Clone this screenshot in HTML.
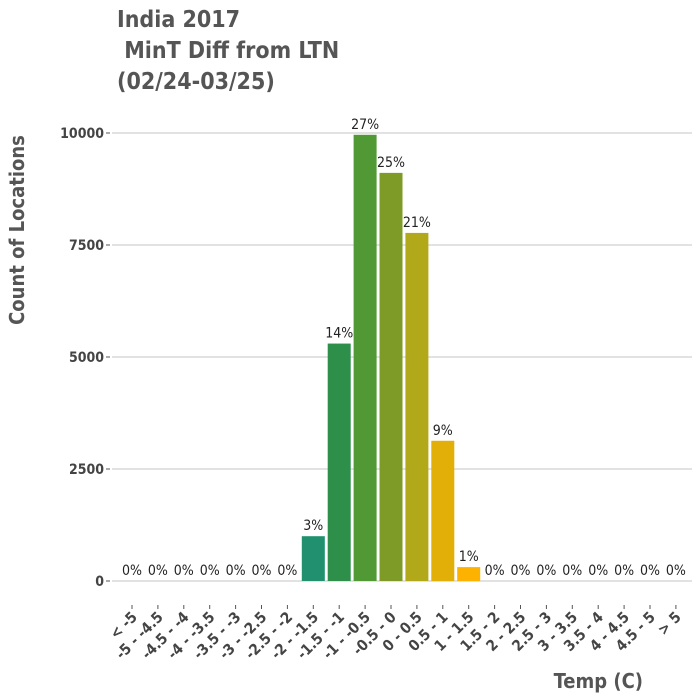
<!DOCTYPE html>
<html><head><meta charset="utf-8"><style>
body{margin:0;background:#fff}
svg{display:block;font-family:"DejaVu Sans Condensed","Liberation Sans",sans-serif}
</style></head><body>
<svg id="chart" width="700" height="700" viewBox="0 0 700 700">
<g fill="#555" font-weight="bold" font-size="23">
<text x="117" y="27">India 2017</text>
<text x="117" y="58" xml:space="preserve"> MinT Diff from LTN</text>
<text x="117" y="89" xml:space="preserve">(02/24-03/25)</text>
</g>
<text transform="translate(24,230) rotate(-90)" text-anchor="middle" font-size="20" font-weight="bold" fill="#555">Count of Locations</text>
<text x="643" y="688" text-anchor="end" font-size="20" font-weight="bold" fill="#555">Temp (C)</text>
<g id="grid"></g><g id="bars"></g><g id="labels"></g><g id="yticks"></g><g id="xticks"></g>
</svg>
<script>
const categories=["< -5","-5 - -4.5","-4.5 - -4","-4 - -3.5","-3.5 - -3","-3 - -2.5","-2.5 - -2","-2 - -1.5","-1.5 - -1","-1 - -0.5","-0.5 - 0","0 - 0.5","0.5 - 1","1 - 1.5","1.5 - 2","2 - 2.5","2.5 - 3","3 - 3.5","3.5 - 4","4 - 4.5","4.5 - 5","> 5"];
const counts=[0,0,0,0,0,0,0,1000,5300,9960,9110,7770,3130,310,0,0,0,0,0,0,0,0];
const pctLabels=["0%","0%","0%","0%","0%","0%","0%","3%","14%","27%","25%","21%","9%","1%","0%","0%","0%","0%","0%","0%","0%","0%"];
const colors=["#1f8f6f","#1f8f6f","#1f8f6f","#1f8f6f","#1f8f6f","#1f8f6f","#1f8f6f","#21906f","#2e8f4b","#519935","#7d9b26","#b2a91a","#e2ae08","#fdb100","#fdb100","#fdb100","#fdb100","#fdb100","#fdb100","#fdb100","#fdb100","#fdb100"];
const yTicks=[0,2500,5000,7500,10000];
const NS="http://www.w3.org/2000/svg";
const y=v=>581-v*0.0448;
const x=i=>132+i*25.9;
const bw=23;
function mk(tag,attrs,parent,txt){const e=document.createElementNS(NS,tag);for(const k in attrs)e.setAttribute(k,attrs[k]);if(txt!==undefined)e.textContent=txt;document.getElementById(parent).appendChild(e);return e;}
yTicks.forEach(t=>{
 const g=mk('line',{x1:112,x2:692,y1:y(t),y2:y(t),stroke:'#d0d0d0','stroke-width':1.3},'grid');
 
 
 const l=mk('text',{x:104,y:y(t)+5,'text-anchor':'end','font-size':14,'font-weight':'bold',fill:'#444'},'yticks',String(t));
 
 
 mk('line',{x1:106,x2:110,y1:y(t),y2:y(t),stroke:'#555'},'yticks');
});
categories.forEach((c,i)=>{
 const cx=x(i);
 if(counts[i]>0){
  const r=mk('rect',{x:cx-bw/2,y:y(counts[i]),width:bw,height:y(0)-y(counts[i]),fill:colors[i]},'bars');
  
  
 }
 const p=mk('text',{x:cx,y:y(counts[i])-6,'text-anchor':'middle','font-size':14,fill:'#222'},'labels',pctLabels[i]);
 
 
 mk('line',{x1:cx,x2:cx,y1:605,y2:609,stroke:'#555'},'xticks');
 const t=mk('text',{x:cx+6,y:618,'text-anchor':'end','font-size':15,'font-weight':'bold',fill:'#444',transform:`rotate(-45 ${cx+6} 618)`},'xticks',c);
 
 
});
</script>
</body></html>
